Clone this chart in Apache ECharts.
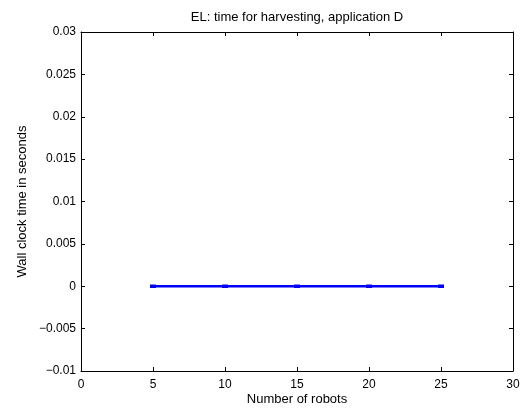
<!DOCTYPE html>
<html>
<head>
<meta charset="utf-8">
<script src="https://cdn.jsdelivr.net/npm/echarts@6/dist/echarts.min.js"></script>
<style>html,body{margin:0;padding:0;background:#fff;}#c{width:524px;height:411px;}</style>
</head>
<body>
<div id="c"></div>
<script>
const titleText = "EL: time for harvesting, application D";
const xLabel = "Number of robots";
const yLabel = "Wall clock time in seconds";
const robots = [5, 10, 15, 20, 25];
const wallTime = [0, 0, 0, 0, 0];
const xTicks = [0, 5, 10, 15, 20, 25, 30];
const yTicks = [-0.01, -0.005, 0, 0.005, 0.01, 0.015, 0.02, 0.025, 0.03];

const font = "Liberation Sans, Arial, Helvetica, sans-serif";
const chart = echarts.init(document.getElementById('c'), null, {renderer: 'canvas'});
function fmtY(v) {
  const s = String(parseFloat(v.toFixed(6)));
  return s.replace('-', '\u2212');
}
const axisLine = {show: true, onZero: false, lineStyle: {color: '#000', width: 1}};
const axisTick = {show: true, inside: true, length: 4, lineStyle: {color: '#000', width: 1}};
const G = {left: 81, top: 32, right: 11, bottom: 40};
chart.setOption({
  animation: false,
  backgroundColor: '#fff',
  grid: G,
  graphic: [
    {type: 'text', x: 297, y: 17, style: {text: titleText, font: '13px ' + font, fill: '#000', textAlign: 'center', textVerticalAlign: 'middle'}},
    {type: 'text', x: 297, y: 399, style: {text: xLabel, font: '13px ' + font, fill: '#000', textAlign: 'center', textVerticalAlign: 'middle'}},
    {type: 'text', x: 22, y: 201.5, rotation: Math.PI / 2, style: {text: yLabel, font: '13px ' + font, fill: '#000', textAlign: 'center', textVerticalAlign: 'middle'}}
  ],
  xAxis: [{
    type: 'value', min: xTicks[0], max: xTicks[xTicks.length - 1], interval: 5,
    axisLine: axisLine, axisTick: axisTick, splitLine: {show: false},
    axisLabel: {fontFamily: font, fontSize: 12, color: '#000', margin: 8}
  }, {
    type: 'value', position: 'top', min: xTicks[0], max: xTicks[xTicks.length - 1], interval: 5,
    axisLine: axisLine, axisTick: axisTick, splitLine: {show: false}, axisLabel: {show: false}
  }],
  yAxis: [{
    type: 'value', min: yTicks[0], max: yTicks[yTicks.length - 1], interval: 0.005,
    axisLine: axisLine, axisTick: axisTick, splitLine: {show: false},
    axisLabel: {fontFamily: font, fontSize: 12, color: '#000', margin: 5, formatter: fmtY}
  }, {
    type: 'value', position: 'right', min: yTicks[0], max: yTicks[yTicks.length - 1], interval: 0.005,
    axisLine: axisLine, axisTick: axisTick, splitLine: {show: false}, axisLabel: {show: false}
  }],
  series: [{
    type: 'line',
    data: robots.map((x, i) => [x, wallTime[i]]),
    lineStyle: {color: '#0000ff', width: 2.5},
    itemStyle: {color: '#0000ff'},
    symbol: 'rect', symbolSize: [6, 3.5], showSymbol: true
  }]
});
</script>
</body>
</html>
